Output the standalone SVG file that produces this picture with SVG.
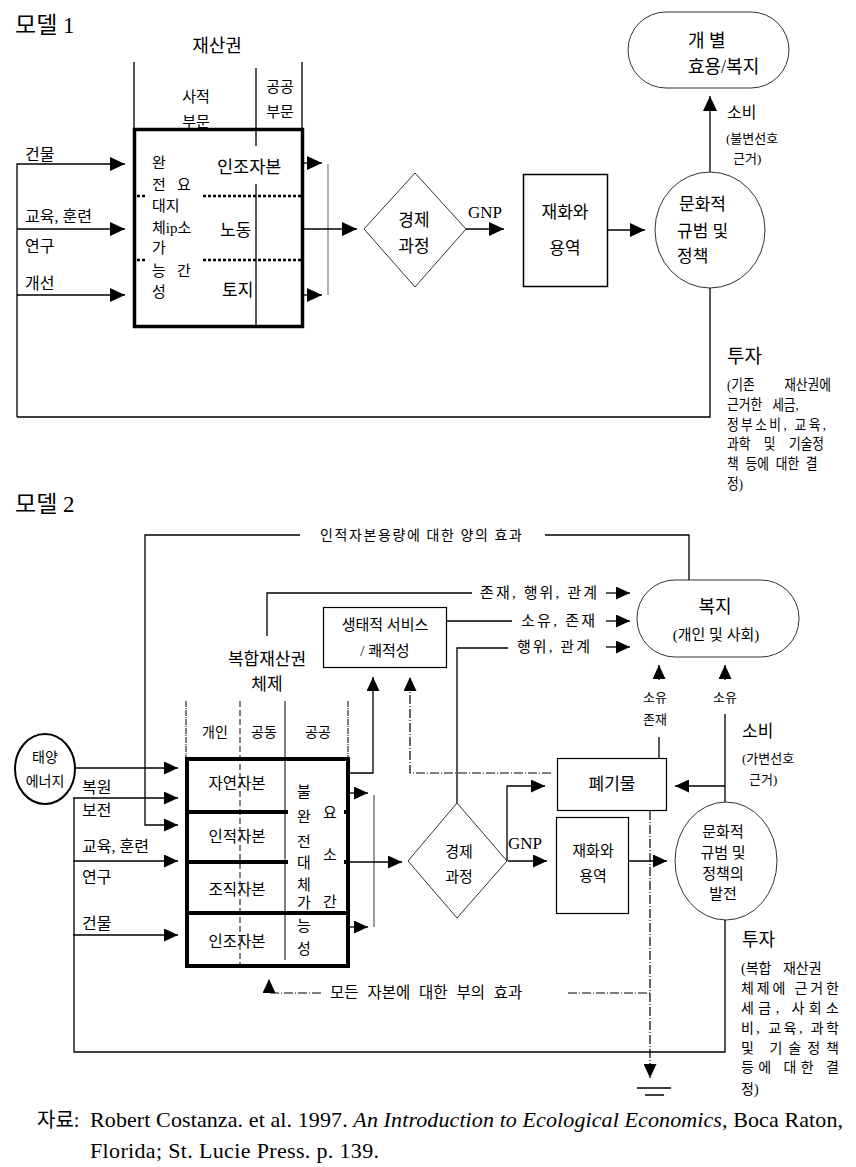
<svg xmlns="http://www.w3.org/2000/svg" width="856" height="1167" viewBox="0 0 856 1167">
<style>
text{font-family:"Liberation Serif","Noto Sans CJK KR",serif;fill:#000}
.ln{stroke:#000;stroke-width:1.3;fill:none}
.thin{stroke:#333;stroke-width:1;fill:none}
.thick{stroke:#000;stroke-width:3.5;fill:none}
.dd{stroke:#000;stroke-width:1.2;fill:none;stroke-dasharray:9,2,1,2}
.dot{stroke:#000;stroke-width:2.5;fill:none;stroke-dasharray:3,2}
.gry{stroke:#999;stroke-width:2;fill:none}
.s13{font-size:13px}.s14{font-size:14px}.s15{font-size:15px}.s16{font-size:16px}.s17{font-size:17px}.s18{font-size:18px}
.m{text-anchor:middle}
</style>
<defs>
<marker id="a1" viewBox="0 0 15 14" refX="15" refY="7" markerWidth="15" markerHeight="14" markerUnits="userSpaceOnUse" orient="auto"><path d="M0,0 L15,7 L0,14 z" fill="#000"/></marker>
<marker id="a2" viewBox="0 0 14 13" refX="14" refY="6.5" markerWidth="14" markerHeight="13" markerUnits="userSpaceOnUse" orient="auto"><path d="M0,0 L14,6.5 L0,13 z" fill="#000"/></marker>
</defs>

<!-- ================= MODEL 1 ================= -->
<text x="15" y="33" style="font-size:23px">모델 1</text>

<g id="m1-property">
<text class="s18 m" x="217" y="52">재산권</text>
<text class="s15 m" x="196" y="102">사적</text>
<text class="s15 m" x="196" y="127">부문</text>
<text class="s15 m" x="280" y="92">공공</text>
<text class="s15 m" x="280" y="117">부문</text>
<path class="ln" d="M134,62 V128 M302,62 V128 M256,68 V146 M256,184 V328"/>
<rect class="thick" x="134.5" y="129.5" width="168" height="197"/>
<path class="dot" d="M137,196 H146 M203,196 H302 M137,260 H146 M203,260 H302"/>
<text class="s15" x="152" y="168">완</text>
<text class="s15" x="152" y="190">전</text><text class="s15" x="177" y="190">요</text>
<text class="s15" x="152" y="211">대지</text>
<text class="s15" x="152" y="233">체ip소</text>
<text class="s15" x="152" y="253">가</text>
<text class="s15" x="152" y="276">능</text><text class="s15" x="177" y="276">간</text>
<text class="s15" x="152" y="297">성</text>
<text x="217" y="173" style="font-size:17.5px">인조자본</text>
<text class="s17" x="220" y="236">노동</text>
<text class="s17" x="222" y="296">토지</text>
</g>

<g id="m1-inputs">
<text class="s16" x="25" y="160">건물</text>
<text class="s16" x="25" y="222">교육, 훈련</text>
<text class="s16" x="25" y="252">연구</text>
<text class="s16" x="25" y="289">개선</text>
</g>

<g id="m1-process">
<polygon class="thin" points="364,229 415,173 466,229 415,287"/>
<text class="s17 m" x="414" y="226">경제</text>
<text class="s17 m" x="414" y="252">과정</text>
</g>

<g id="m1-goods">
<rect x="523.5" y="174.5" width="84" height="112" fill="none" stroke="#000" stroke-width="1.5"/>
<text class="s17 m" x="565" y="218">재화와</text>
<text class="s17 m" x="565" y="254">용역</text>
</g>

<g id="m1-culture">
<ellipse class="thin" cx="710" cy="230" rx="55" ry="58"/>
<text class="s17" x="679" y="210">문화적</text>
<text class="s17" x="677" y="237">규범 및</text>
<text class="s17" x="677" y="262">정책</text>
</g>

<g id="m1-welfare">
<rect class="thin" x="628" y="12" width="161" height="76" rx="38" ry="38"/>
<text class="s18" x="688" y="47">개 별</text>
<text class="s18" x="688" y="73">효용/복지</text>
</g>

<g id="m1-labels">
<text class="s16" x="727" y="118">소비</text>
<text class="s13" x="726" y="143">(불변선호</text>
<text class="s13" x="733" y="163">근거)</text>
<text x="727" y="363" style="font-size:19px">투자</text>
<g transform="translate(727,0) scale(0.85,1)">
<text class="s15" x="0" y="390">(기존</text>
<text class="s15" x="122.4" y="390" style="text-anchor:end">재산권에</text>
<text class="s15" x="0" y="410" style="word-spacing:8px">근거한 세금,</text>
<text class="s15" x="0" y="430" textLength="116.5" lengthAdjust="spacing">정부소비, 교육,</text>
<text class="s15" x="0" y="449" style="word-spacing:12px">과학 및 기술정</text>
<text class="s15" x="0" y="469" style="word-spacing:4.2px">책 등에 대한 결</text>
<text class="s15" x="0" y="489">정)</text>
</g>
<text class="s17" x="468" y="218">GNP</text>
</g>

<g id="m1-connectors">
<path class="ln" d="M17,417 V164 H125" marker-end="url(#a1)"/>
<path class="ln" d="M17,229 H125" marker-end="url(#a1)"/>
<path class="ln" d="M17,295 H125" marker-end="url(#a1)"/>
<path class="ln" d="M304,163 H322" marker-end="url(#a1)"/>
<path class="ln" d="M304,295 H322" marker-end="url(#a1)"/>
<path class="gry" d="M328,164 V295" style="stroke-width:1.5"/>
<path class="ln" d="M304,229 H357" marker-end="url(#a1)"/>
<path class="ln" d="M466,229 H504" marker-end="url(#a1)"/>
<path class="ln" d="M608,230 H645" marker-end="url(#a1)"/>
<path class="ln" d="M710,172 V96" marker-end="url(#a1)"/>
<path class="ln" d="M710,288 V417 H17"/>
</g>

<!-- ================= MODEL 2 ================= -->
<text x="15" y="512" style="font-size:23px">모델 2</text>

<g id="m2-solar">
<ellipse cx="45" cy="769" rx="30" ry="35" fill="none" stroke="#000" stroke-width="2"/>
<text class="s14 m" x="45" y="762">태양</text>
<text class="s14 m" x="45" y="786">에너지</text>
</g>

<g id="m2-inputs">
<text class="s16" x="82" y="793">복원</text>
<text class="s16" x="82" y="816">보전</text>
<text class="s16" x="82" y="852">교육, 훈련</text>
<text class="s16" x="82" y="883">연구</text>
<text class="s16" x="82" y="929">건물</text>
</g>

<g id="m2-property">
<text class="s17 m" x="267" y="665">복합재산권</text>
<text class="s17 m" x="267" y="690">체제</text>
<text class="s14 m" x="215" y="737">개인</text>
<text class="s14 m" x="264" y="737">공동</text>
<text class="s14 m" x="318" y="737">공공</text>
<path class="ln" d="M186,701 V758 M348,701 V758" style="stroke-dasharray:6,1,1,1;stroke-width:1"/>
<path class="ln" d="M240,701 V966" style="stroke-dasharray:6,3;stroke-width:1"/>
<path class="ln" d="M285,701 V960" style="stroke-width:1"/>
<rect class="thick" x="187" y="759" width="161" height="207" style="stroke-width:4"/>
<path class="thick" d="M187,812 H288 M187,862 H288 M187,913 H348 M344,812 H348 M344,862 H348" style="stroke-width:4"/>
<text x="237" y="789" class="m" style="font-size:15.5px">자연자본</text>
<text x="237" y="842" class="m" style="font-size:15.5px">인적자본</text>
<text x="237" y="895" class="m" style="font-size:15.5px">조직자본</text>
<text x="237" y="947" class="m" style="font-size:15.5px">인조자본</text>
<text class="s15 m" x="304" y="797">불</text>
<text class="s15 m" x="304" y="822">완</text>
<text class="s15 m" x="304" y="847">전</text>
<text class="s15 m" x="304" y="868">대</text>
<text class="s15 m" x="304" y="890">체</text>
<text class="s15 m" x="304" y="908">가</text>
<text class="s15 m" x="304" y="931">능</text>
<text class="s15 m" x="304" y="954">성</text>
<text class="s15 m" x="330" y="818">요</text>
<text class="s15 m" x="330" y="860">소</text>
<text class="s15 m" x="330" y="907">간</text>
</g>

<g id="m2-eco">
<rect class="ln" x="323.5" y="607.5" width="123" height="60" style="stroke-width:1.2"/>
<text class="s15 m" x="385" y="630">생태적 서비스</text>
<text class="s15 m" x="385" y="656">/ 쾌적성</text>
</g>

<g id="m2-welfare">
<rect class="thin" x="637" y="580" width="162" height="77" rx="38" ry="38"/>
<text class="s18 m" x="715" y="613">복지</text>
<text class="s15 m" x="716" y="640">(개인 및 사회)</text>
</g>

<g id="m2-process">
<polygon class="thin" points="408,861 457,803 507,861 457,918"/>
<text class="s15 m" x="459" y="857">경제</text>
<text class="s15 m" x="459" y="882">과정</text>
</g>

<g id="m2-goods">
<rect class="ln" x="556.5" y="817.5" width="72" height="96" style="stroke-width:1.2"/>
<text class="s15 m" x="593" y="856">재화와</text>
<text class="s15 m" x="593" y="881">용역</text>
</g>

<g id="m2-waste">
<rect class="ln" x="557.5" y="758.5" width="109" height="52" style="stroke-width:1.2"/>
<text class="s17 m" x="612" y="790">폐기물</text>
</g>

<g id="m2-culture">
<ellipse class="thin" cx="726" cy="861" rx="51" ry="59"/>
<text class="s15 m" x="723" y="837">문화적</text>
<text class="s15 m" x="723" y="858">규범 및</text>
<text class="s15 m" x="723" y="879">정책의</text>
<text class="s15 m" x="723" y="899">발전</text>
</g>

<g id="m2-labels">
<text class="s14" x="320" y="540" textLength="202" lengthAdjust="spacing">인적자본용량에 대한 양의 효과</text>
<text class="s15" x="480" y="598" textLength="117" lengthAdjust="spacing">존재, 행위, 관계</text>
<text class="s15" x="521" y="626" textLength="74" lengthAdjust="spacing">소유, 존재</text>
<text class="s15" x="517" y="652" textLength="73" lengthAdjust="spacing">행위, 관계</text>
<text class="s13" x="643" y="702">소유</text>
<text class="s13" x="643" y="724">존재</text>
<text class="s13" x="713" y="702">소유</text>
<text class="s17" x="742" y="737">소비</text>
<text class="s13" x="742" y="763">(가변선호</text>
<text class="s13" x="749" y="784">근거)</text>
<text class="s17" x="508" y="849">GNP</text>
<text class="s18" x="742" y="946">투자</text>
<text class="s14" x="741" y="973" style="word-spacing:8px">(복합 재산권</text>
<text class="s14" x="741" y="993" textLength="98" lengthAdjust="spacing">체제에 근거한</text>
<text class="s14" x="741" y="1013" textLength="98" lengthAdjust="spacing">세금,  사회소</text>
<text class="s14" x="741" y="1033" textLength="98" lengthAdjust="spacing">비, 교육, 과학</text>
<text class="s14" x="741" y="1053" textLength="98" lengthAdjust="spacing">및   기술정책</text>
<text class="s14" x="741" y="1072" textLength="98" lengthAdjust="spacing">등에 대한 결</text>
<text class="s14" x="741" y="1094">정)</text>
<text x="330" y="998" style="font-size:15.5px;word-spacing:5px">모든 자본에 대한 부의 효과</text>
</g>

<g id="m2-connectors">
<path class="ln" d="M300,535 H145 V825 H178" marker-end="url(#a2)"/>
<path class="ln" d="M545,535 H689 V580"/>
<path class="ln" d="M267,636 V593 H472"/>
<path class="ln" d="M606,593 H630" marker-end="url(#a2)"/>
<path class="ln" d="M447,621 H512"/>
<path class="ln" d="M606,621 H630" marker-end="url(#a2)"/>
<path class="ln" d="M457,803 V648 H508"/>
<path class="ln" d="M606,647 H630" marker-end="url(#a2)"/>
<path class="ln" d="M659,680 V665" marker-end="url(#a2)"/>
<path class="ln" d="M725,680 V665" marker-end="url(#a2)"/>
<path class="ln" d="M659,737 V758"/>
<path class="ln" d="M725,714 V802"/>
<path class="ln" d="M725,786 H675" marker-end="url(#a2)"/>
<path class="dd" d="M551,773 H410 V677" marker-end="url(#a2)"/>
<path class="ln" d="M349,773 H373 V677" marker-end="url(#a2)"/>
<path class="ln" d="M75,768 H178" marker-end="url(#a2)"/>
<path class="ln" d="M73,798 H178" marker-end="url(#a2)"/>
<path class="ln" d="M73,861 H178" marker-end="url(#a2)"/>
<path class="ln" d="M73,935 H178" marker-end="url(#a2)"/>
<path class="ln" d="M349,793 H368" marker-end="url(#a2)"/>
<path class="ln" d="M349,927 H368" marker-end="url(#a2)"/>
<path class="gry" d="M374,795 V927"/>
<path class="ln" d="M349,862 H402" marker-end="url(#a2)"/>
<path class="ln" d="M507,861 V786 H545" marker-end="url(#a2)"/>
<path class="ln" d="M508,861 H547" marker-end="url(#a2)"/>
<path class="ln" d="M629,861 H667" marker-end="url(#a2)"/>
<path class="dd" d="M650,811 V1078" marker-end="url(#a2)"/>
<path class="ln" d="M637,1088 H671 M645,1095 H664"/>
<path class="ln" d="M725,920 V1052 H74 V798"/>
<path class="dd" d="M568,993 H650"/>
<path class="dd" d="M321,993 H269 V979" marker-end="url(#a2)"/>
</g>

<g id="caption">
<text x="37" y="1127" style="font-size:20px">자료:</text>
<text x="90" y="1127" style="font-size:22px" textLength="753" lengthAdjust="spacing">Robert Costanza. et al. 1997. <tspan font-style="italic">An Introduction to Ecological Economics</tspan>, Boca Raton,</text>
<text x="90" y="1158" style="font-size:22px" textLength="289" lengthAdjust="spacing">Florida; St. Lucie Press. p. 139.</text>
</g>
</svg>
